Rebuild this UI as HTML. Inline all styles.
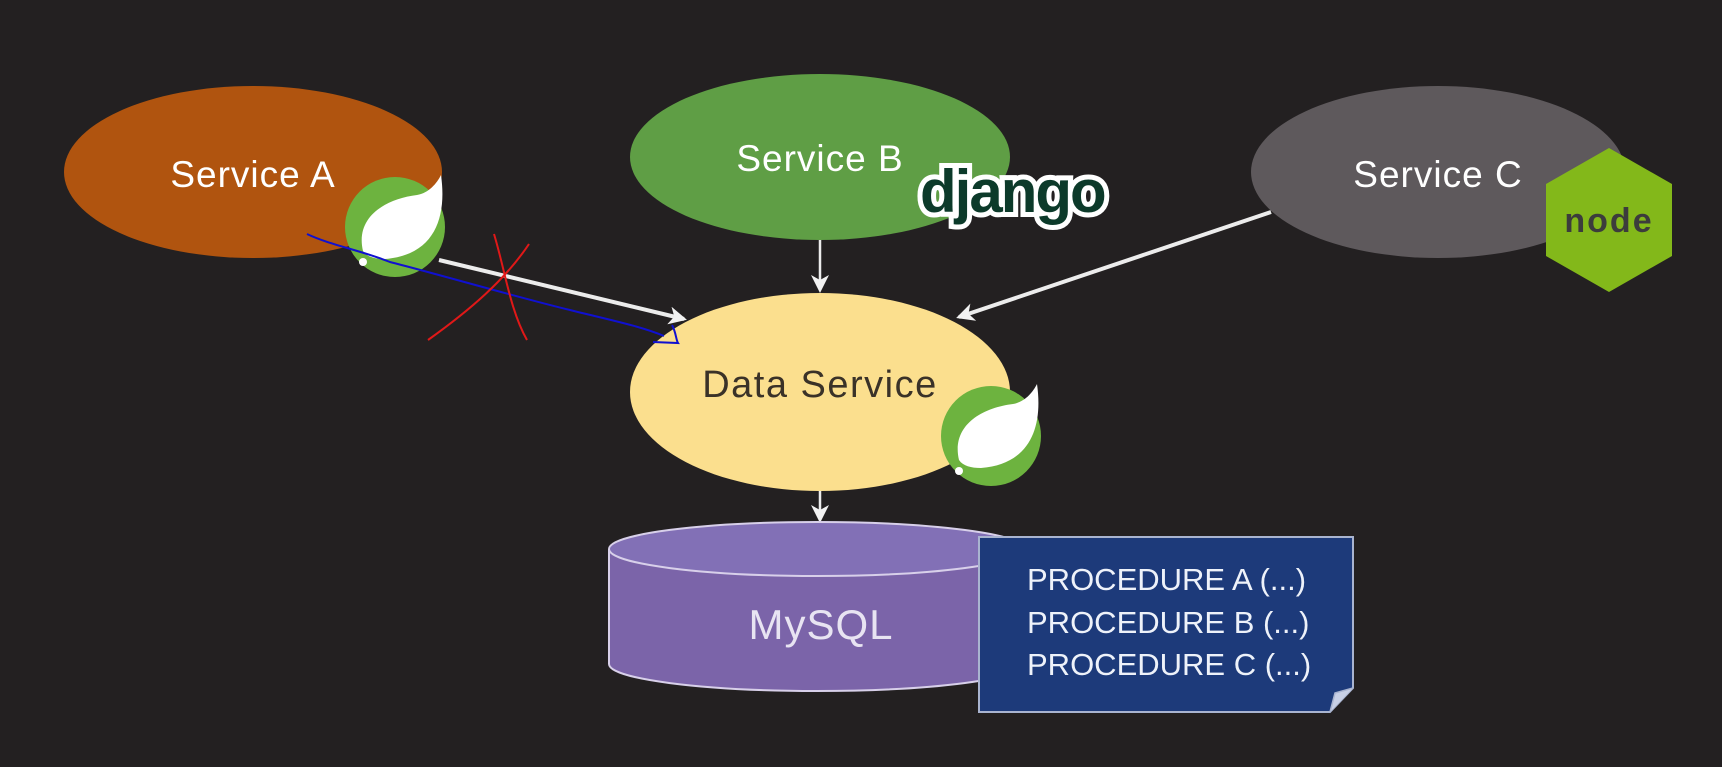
<!DOCTYPE html>
<html><head><meta charset="utf-8"><style>
html,body{margin:0;padding:0;background:#232021;}
svg{display:block}
</style></head><body>
<svg width="1722" height="767" viewBox="0 0 1722 767" xmlns="http://www.w3.org/2000/svg" font-family="'Liberation Sans', sans-serif">
<defs>
<marker id="ah" markerWidth="18" markerHeight="18" refX="15" refY="9" orient="auto" markerUnits="userSpaceOnUse" viewBox="0 0 18 18">
<path d="M0,0 L18,9 L0,18 L5,9 Z" fill="#f2f2f2"/>
</marker>
</defs>
<rect width="1722" height="767" fill="#232021"/>

<g stroke="#ececec" stroke-width="4" fill="none">
<line x1="439" y1="260" x2="684" y2="319" marker-end="url(#ah)"/>
<line x1="820" y1="240" x2="820" y2="290" stroke-width="2.5" marker-end="url(#ah)"/>
<line x1="1271" y1="212" x2="959" y2="317" marker-end="url(#ah)"/>
<line x1="820" y1="467" x2="820" y2="520" stroke-width="2.5" marker-end="url(#ah)"/>
</g>

<ellipse cx="253" cy="172" rx="189" ry="86" fill="#b0540f"/>
<text x="253" y="187" font-size="37" fill="#fff" text-anchor="middle" letter-spacing="1">Service A</text>
<ellipse cx="820" cy="157" rx="190" ry="83" fill="#5f9e45"/>
<text x="820" y="171" font-size="37" fill="#fff" text-anchor="middle" letter-spacing="1">Service B</text>
<ellipse cx="1438" cy="172" rx="187" ry="86" fill="#5e595c"/>
<text x="1438" y="187" font-size="37" fill="#fff" text-anchor="middle" letter-spacing="1">Service C</text>
<ellipse cx="820" cy="392" rx="190" ry="99" fill="#fbdf8e"/>
<text x="820" y="397" font-size="38" fill="#3a3228" text-anchor="middle" letter-spacing="1.5">Data Service</text>

<g transform="translate(395,227)">
<circle r="50" fill="#6db33f"/>
<path d="M-32,24 C-40,-10 -10,-28 22,-32 C34,-34 42,-44 46,-52 C52,-10 40,28 -10,32 C-20,32 -28,30 -32,24 Z" fill="#fff"/>
<circle cx="-32" cy="35" r="4" fill="#fff"/>
</g>
<g transform="translate(991,436)">
<circle r="50" fill="#6db33f"/>
<path d="M-32,24 C-40,-10 -10,-28 22,-32 C34,-34 42,-44 46,-52 C52,-10 40,28 -10,32 C-20,32 -28,30 -32,24 Z" fill="#fff"/>
<circle cx="-32" cy="35" r="4" fill="#fff"/>
</g>

<text x="920" y="212" font-size="60" font-weight="bold" fill="#0c3a2a" stroke="#fff" stroke-width="10" paint-order="stroke" letter-spacing="-2">django</text>

<polygon points="1609,148 1672,184 1672,256 1609,292 1546,256 1546,184" fill="#83b81a"/>
<text x="1609" y="232" font-size="34" font-weight="bold" fill="#3c3c3c" text-anchor="middle" letter-spacing="2">node</text>

<path d="M609,549 L609,664 A208,27 0 0 0 1025,664 L1025,549" fill="#7b64a9" stroke="#d8d0ea" stroke-width="2"/>
<ellipse cx="817" cy="549" rx="208" ry="27" fill="#8270b6" stroke="#d8d0ea" stroke-width="2"/>
<text x="821" y="639" font-size="42" fill="#e8e4f2" text-anchor="middle" letter-spacing="1">MySQL</text>

<path d="M979,537 L1353,537 L1353,688 L1330,712 L979,712 Z" fill="#1d3a7a" stroke="#a9b4d0" stroke-width="2"/>
<path d="M1330,712 L1335,693 L1353,688" fill="#c8d0e6" stroke="#a9b4d0" stroke-width="1.5"/>
<g font-size="31" fill="#eef2fa">
<text x="1027" y="590">PROCEDURE A (...)</text>
<text x="1027" y="633">PROCEDURE B (...)</text>
<text x="1027" y="675">PROCEDURE C (...)</text>
</g>

<path d="M307,234 C330,245 360,250 390,262 C430,272 520,298 570,310 C610,320 640,326 664,336 M672,325 C676,332 676,340 678,343 L653,342" stroke="#1010d0" stroke-width="2" fill="none"/>
<path d="M428,340 C470,310 505,280 529,244" stroke="#e01818" stroke-width="2" fill="none"/>
<path d="M494,234 C505,270 510,310 527,340" stroke="#e01818" stroke-width="2" fill="none"/>
</svg>
</body></html>
